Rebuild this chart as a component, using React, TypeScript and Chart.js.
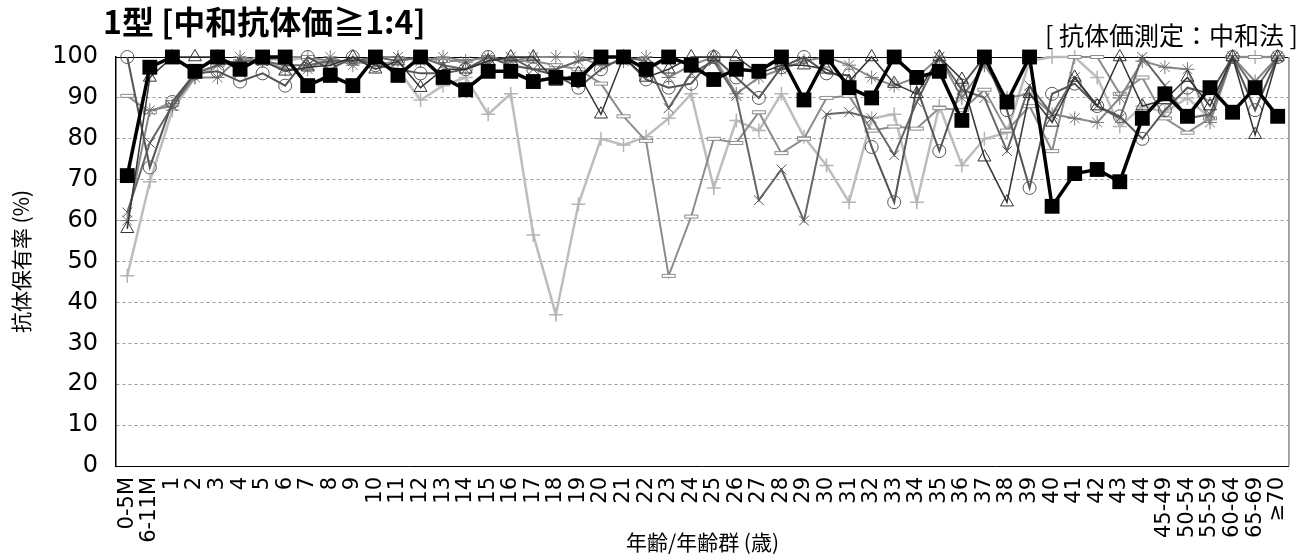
import React, { useEffect, useRef } from 'react';
import { Chart, registerables } from 'chart.js';

Chart.register(...registerables);

const chartTitle = '1型 [中和抗体価≧1:4]';
const methodNote = '[ 抗体価測定：中和法 ]';
const yAxisTitle = '抗体保有率 (%)';
const xAxisTitle = '年齢/年齢群 (歳)';

const categories = [
  '0-5M', '6-11M', '1', '2', '3', '4', '5', '6', '7', '8', '9', '10', '11', '12', '13', '14', '15', '16', '17', '18',
  '19', '20', '21', '22', '23', '24', '25', '26', '27', '28', '29', '30', '31', '32', '33', '34', '35', '36', '37', '38',
  '39', '40', '41', '42', '43', '44', '45-49', '50-54', '55-59', '60-64', '65-69', '≥70',
];

const yTicks = [0, 10, 20, 30, 40, 50, 60, 70, 80, 90, 100];

const squareSeries = [
  71, 97.5, 100, 96.5, 100, 97, 100, 100, 93, 95.5, 93, 100, 95.5, 100, 95, 92, 96.5, 96.5, 94, 95,
  94.5, 100, 100, 97, 100, 98, 94.5, 97, 96.5, 100, 89.5, 100, 92.5, 90, 100, 95, 96.5, 84.5, 100, 89,
  100, 63.5, 71.5, 72.5, 69.5, 85, 91, 85.5, 92.5, 86.5, 92.5, 85.5,
];

const circleSeries = [
  100, 73, 89, 96, 96.5, 94, 96, 93, 100, 97, 100, 98, 97, 96, 96, 97, 100, 98, 97, 95.5,
  92.5, 97, 100, 94.5, 92.5, 93.5, 100, 95, 90, 97.5, 100, 96, 95.5, 78, 64.5, 92.5, 77, 93, 100, 87,
  68, 91, 93.5, 88, 85.5, 80, 87, 92.5, 91, 100, 87, 100,
];

const triangleSeries = [
  58, 95, 100, 100, 100, 98, 99, 96.5, 97.5, 98, 100, 97, 99, 92.5, 97, 97, 99, 100, 100, 94,
  96, 86, 100, 95, 97, 100, 100, 100, 96, 98, 98, 97, 94, 100, 93.5, 91, 100, 94.5, 75.5, 64.5,
  91, 84, 95, 88, 100, 88, 89.5, 95, 88, 100, 81, 100,
];

const crossSeries = [
  62, 79, 88, 96, 98, 99, 99, 98, 98, 99, 99, 100, 99, 100, 98, 97, 99, 100, 97, 97,
  99, 100, 100, 99, 87.5, 96, 99, 90.5, 65, 72.5, 60, 86, 86.5, 85, 76, 89, 100, 92, 90, 77,
  93, 86, 95, 88, 85, 100, 93, 85, 86, 100, 92, 100,
];

const starSeries = [
  60, 87, 88, 95, 95, 100, 99, 97, 97, 100, 98, 100, 100, 99, 100, 99, 100, 99, 100, 100,
  100, 98, 99, 100, 95, 98, 100, 91, 95, 97, 99, 100, 98, 95, 93, 95, 100, 90, 98, 90,
  91, 86, 85, 84, 90, 99, 97.5, 97, 84, 100, 94, 100,
];

const plusSeries = [
  46.5, 69.5, 87, 95, 98, 99, 100, 99, 100, 98, 99, 99, 97, 89.5, 93, 95, 86, 91, 56.5, 37,
  64, 80, 78.5, 80.5, 85, 91, 68, 84.5, 82, 91, 80.5, 73.5, 64.5, 85, 86, 64.5, 88, 73.5, 80, 81.5,
  99, 100, 100, 95, 83, 88, 86.5, 90, 85, 100, 100, 100,
];

const dashSeries = [
  90.5, 86.5, 89, 96, 98, 99, 99, 100, 100, 99, 99, 98, 99, 100, 99, 99, 100, 99, 99, 98,
  97, 93.5, 85.5, 79.5, 46.5, 61, 80, 79, 86.5, 76.5, 80, 90, 90.5, 82, 83, 82.5, 87.5, 87, 92, 82,
  88, 77, 100, 100, 91, 95, 85, 81.5, 85, 100, 100, 100,
];

const FONT = '"DejaVu Sans", "Noto Sans CJK JP", sans-serif';
const CJK = '"Noto Sans CJK JP", "DejaVu Sans", sans-serif';

function makeDashMarker(color: string) {
  const c = document.createElement('canvas');
  c.width = 16;
  c.height = 6;
  const g = c.getContext('2d')!;
  g.fillStyle = '#ffffff';
  g.fillRect(1, 1, 14, 4);
  g.strokeStyle = color;
  g.lineWidth = 1;
  g.strokeRect(1.5, 1.5, 13, 3);
  return c;
}

const framePlugin = {
  id: 'framePlugin',
  beforeDatasetsDraw(chart: any) {
    const { ctx, chartArea } = chart;
    ctx.save();
    ctx.strokeStyle = '#000';
    ctx.lineWidth = 1;
    ctx.beginPath();
    ctx.moveTo(chartArea.left, chartArea.top + 0.5);
    ctx.lineTo(chartArea.right, chartArea.top + 0.5);
    ctx.stroke();
    ctx.strokeStyle = '#8a8a8a';
    ctx.lineWidth = 1.5;
    ctx.beginPath();
    ctx.moveTo(chartArea.right, chartArea.top);
    ctx.lineTo(chartArea.right, chartArea.bottom);
    ctx.stroke();
    ctx.restore();
  },
  afterDraw(chart: any) {
    const { ctx } = chart;
    ctx.save();
    ctx.fillStyle = '#000';
    ctx.textBaseline = 'middle';
    ctx.textAlign = 'left';
    ctx.font = 'bold 32px ' + CJK;
    ctx.fillText(chartTitle, 103, 22);
    ctx.textAlign = 'right';
    ctx.font = '25px ' + CJK;
    ctx.fillText(methodNote, 1298, 35);
    ctx.restore();
  },
};

export default function App() {
  const ref = useRef<HTMLCanvasElement | null>(null);

  useEffect(() => {
    if (!ref.current) return;
    const dashMarker = makeDashMarker('#8c8c8c');
    const common = { tension: 0, clip: false as any, pointHoverRadius: 0 };
    const chart = new Chart(ref.current, {
      type: 'line',
      data: {
        labels: categories,
        datasets: [
          {
            ...common,
            data: squareSeries,
            borderColor: '#000',
            backgroundColor: '#000',
            borderWidth: 3.5,
            pointStyle: 'rect',
            pointRadius: 10.5,
            pointBorderWidth: 0,
            pointBackgroundColor: '#000',
          },
          {
            ...common,
            data: triangleSeries,
            borderColor: '#333',
            borderWidth: 1.5,
            pointStyle: 'triangle',
            pointRadius: 7.5,
            pointBorderWidth: 1,
            pointBorderColor: '#333',
            pointBackgroundColor: 'rgba(255,255,255,0)',
          },
          {
            ...common,
            data: circleSeries,
            borderColor: '#555',
            borderWidth: 2,
            pointStyle: 'circle',
            pointRadius: 6.5,
            pointBorderWidth: 1,
            pointBorderColor: '#555',
            pointBackgroundColor: 'rgba(255,255,255,0)',
          },
          {
            ...common,
            data: crossSeries,
            borderColor: '#666',
            borderWidth: 2,
            pointStyle: 'crossRot',
            pointRadius: 7,
            pointBorderWidth: 1,
            pointBorderColor: '#555',
          },
          {
            ...common,
            data: starSeries,
            borderColor: '#888',
            borderWidth: 2,
            pointStyle: 'star',
            pointRadius: 7,
            pointBorderWidth: 1,
            pointBorderColor: '#777',
          },
          {
            ...common,
            data: dashSeries,
            borderColor: '#8c8c8c',
            borderWidth: 2,
            pointStyle: dashMarker as any,
            pointRadius: 7,
          },
          {
            ...common,
            data: plusSeries,
            borderColor: '#bdbdbd',
            borderWidth: 2.5,
            pointStyle: 'cross',
            pointRadius: 7,
            pointBorderWidth: 1.5,
            pointBorderColor: '#b5b5b5',
          },
        ],
      },
      options: {
        animation: false,
        responsive: false,
        maintainAspectRatio: false,
        events: [],
        layout: { padding: { top: 57, right: 14, left: 0, bottom: 0 } },
        plugins: {
          legend: { display: false },
          tooltip: { enabled: false },
          title: { display: false },
        },
        scales: {
          x: {
            type: 'category',
            offset: true,
            grid: { display: false, drawTicks: false },
            border: { display: true, color: '#000', width: 1 },
            ticks: {
              autoSkip: false,
              maxRotation: 90,
              minRotation: 90,
              color: '#000',
              padding: 11,
              font: { family: FONT, size: 21 },
            },
            title: {
              display: true,
              text: xAxisTitle,
              color: '#000',
              font: { family: CJK, size: 21 },
              padding: { top: 0, bottom: 1 },
            },
            afterFit(scale: any) {
              scale.height = 90;
            },
          },
          y: {
            min: 0,
            max: 100,
            afterBuildTicks(scale: any) {
              scale.ticks = yTicks.map((v) => ({ value: v }));
            },
            grid: {
              drawTicks: false,
              color: (ctx: any) => (ctx.tick && (ctx.tick.value === 0 || ctx.tick.value === 100) ? 'rgba(0,0,0,0)' : '#9a9a9a'),
              lineWidth: 1,
            },
            border: { display: true, color: '#000', width: 1.5, dash: [3, 3] },
            ticks: {
              color: '#000',
              padding: 18,
              font: { family: FONT, size: 24 },
            },
            title: {
              display: true,
              text: yAxisTitle,
              color: '#000',
              font: { family: CJK, size: 21 },
              padding: { top: 8, bottom: 0 },
            },
            afterFit(scale: any) {
              scale.width = 116;
            },
          },
        },
      },
      plugins: [framePlugin],
    });
    return () => chart.destroy();
  }, []);

  return (
    <div style={{ position: 'fixed', left: 0, top: 0, width: 1314, height: 556, background: '#fff' }}>
      <canvas ref={ref} width={1314} height={556} style={{ width: 1314, height: 556 }} />
    </div>
  );
}
